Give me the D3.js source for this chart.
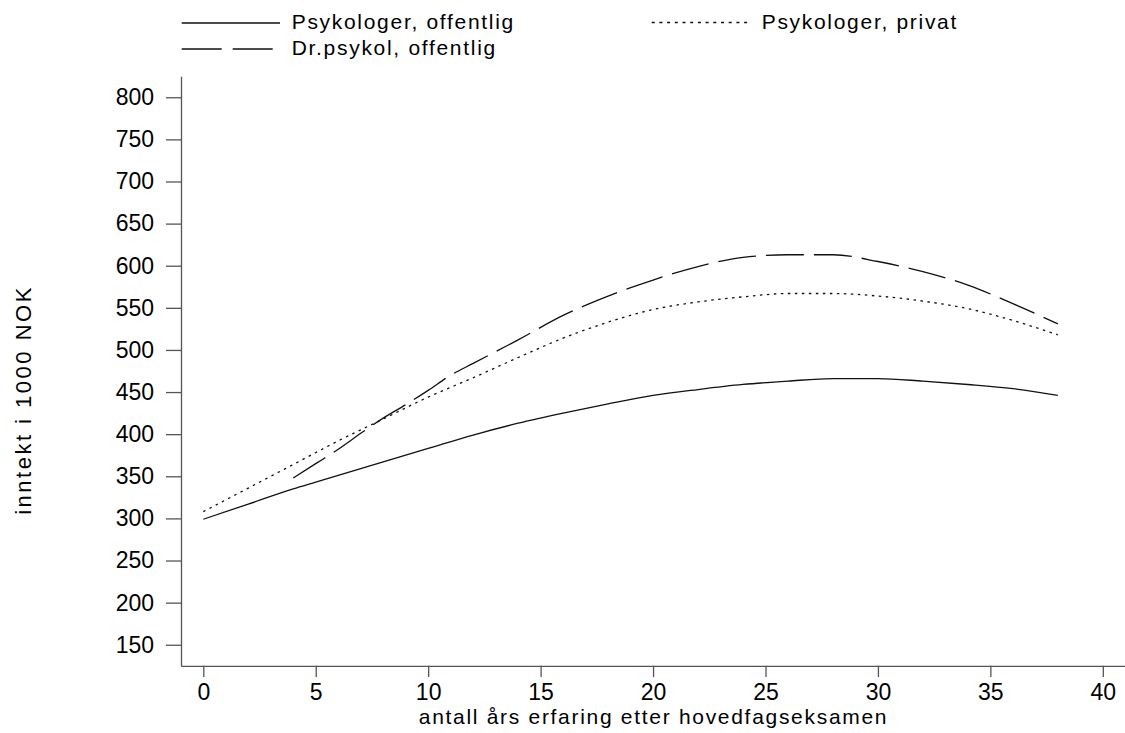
<!DOCTYPE html>
<html>
<head>
<meta charset="utf-8">
<script src="https://cdn.jsdelivr.net/npm/d3@7"></script>
<style>
  html, body { margin: 0; padding: 0; background: #fff; }
  svg { display: block; font-family: "Liberation Sans", Arial, sans-serif; }
</style>
</head>
<body>
<svg id="chart" width="1125" height="733"></svg>
<script>
// ---- data ----
const yearsOff = [0, 2, 4, 5, 6, 8, 10, 12, 14, 16, 18, 20, 22, 24, 26, 28, 30, 32, 34, 36, 38];
const psykOffentlig = [299, 317, 335, 343, 351, 367, 383, 399, 413, 425, 436, 446, 453, 459, 463, 466, 466, 463, 459, 454, 446];

const yearsPriv = [0, 2, 4, 6, 8, 10, 12, 14, 16, 18, 20, 22, 24, 26, 28, 30, 32, 34, 36, 38];
const psykPrivat = [308, 336, 364, 392, 418, 444, 467, 491, 514, 533, 548, 557, 563, 567, 567, 564, 558, 549, 535, 518];

const yearsDr = [4, 5, 6, 7, 8, 9, 10, 11, 12, 14, 16, 18, 20, 22, 24, 26, 28, 30, 32, 34, 36, 38];
const drPsykol = [348, 365, 382, 401, 419, 435, 452, 470, 484, 512, 541, 564, 583, 599, 610, 613, 613, 605, 593, 577, 555, 531];

const xTicks = [0, 5, 10, 15, 20, 25, 30, 35, 40];
const yTicks = [150, 200, 250, 300, 350, 400, 450, 500, 550, 600, 650, 700, 750, 800];

const seriesNames = ["Psykologer, offentlig", "Psykologer, privat", "Dr.psykol, offentlig"];

// ---- scales ----
const svg = d3.select("#chart");
const x = d3.scaleLinear().domain([-1, 41]).range([180.8, 1125.3]);
const y = d3.scaleLinear().domain([125, 825]).range([665.8, 76.2]);

const axisColor = "#555";
const fontTick = 23;
const fontText = 21;
const spacing = "1.7px";

// ---- axes ----
const gy = svg.append("g").attr("transform", "translate(181,0)")
  .call(d3.axisLeft(y).tickValues(yTicks).tickSize(15).tickPadding(12).tickSizeOuter(0));
const gx = svg.append("g").attr("transform", "translate(0,665.8)")
  .call(d3.axisBottom(x).tickValues(xTicks).tickSize(11.3).tickPadding(6.3).tickSizeOuter(0));

[gy, gx].forEach(g => {
  g.select(".domain").attr("stroke", axisColor).attr("stroke-width", 1.3);
  g.selectAll(".tick line").attr("stroke", axisColor).attr("stroke-width", 1.3);
  g.selectAll(".tick text").attr("fill", "#000").style("font-size", fontTick + "px")
    .style("font-family", '"Liberation Sans", Arial, sans-serif');
});

// ---- lines ----
const line = d3.line().x(d => x(d[0])).y(d => y(d[1])).curve(d3.curveMonotoneX);
const series = [
  { name: seriesNames[0], xs: yearsOff, vs: psykOffentlig, dash: null },
  { name: seriesNames[1], xs: yearsPriv, vs: psykPrivat, dash: "2.5,4.5" },
  { name: seriesNames[2], xs: yearsDr, vs: drPsykol, dash: "38,10" }
];
series.forEach(s => {
  svg.append("path")
    .datum(s.xs.map((d, i) => [d, s.vs[i]]))
    .attr("fill", "none")
    .attr("stroke", "#111")
    .attr("stroke-width", 1.3)
    .attr("stroke-dasharray", s.dash)
    .attr("d", line);
});

// ---- axis titles ----
svg.append("text")
  .attr("x", 653.5).attr("y", 724)
  .attr("text-anchor", "middle")
  .style("font-size", fontText + "px").style("letter-spacing", spacing)
  .text("antall års erfaring etter hovedfagseksamen");

svg.append("text")
  .attr("transform", "translate(31,400) rotate(-90)")
  .attr("text-anchor", "middle")
  .style("font-size", "22px").style("letter-spacing", "2.5px")
  .text("inntekt i 1000 NOK");

// ---- legend ----
const legend = [
  { s: series[0], x0: 181.7, x1: 280, ly: 23, tx: 291.7, ty: 28.5, dash: null },
  { s: series[2], x0: 181.7, x1: 275, ly: 49, tx: 291.7, ty: 54.5, dash: "40,11" },
  { s: series[1], x0: 651.7, x1: 750, ly: 22.5, tx: 761.7, ty: 28.5, dash: "3,4.7" }
];
legend.forEach(l => {
  svg.append("line")
    .attr("x1", l.x0).attr("x2", l.x1).attr("y1", l.ly).attr("y2", l.ly)
    .attr("stroke", "#111").attr("stroke-width", 1.3)
    .attr("stroke-dasharray", l.dash);
  svg.append("text")
    .attr("x", l.tx).attr("y", l.ty)
    .style("font-size", fontText + "px").style("letter-spacing", spacing)
    .text(l.s.name);
});
</script>
</body>
</html>
